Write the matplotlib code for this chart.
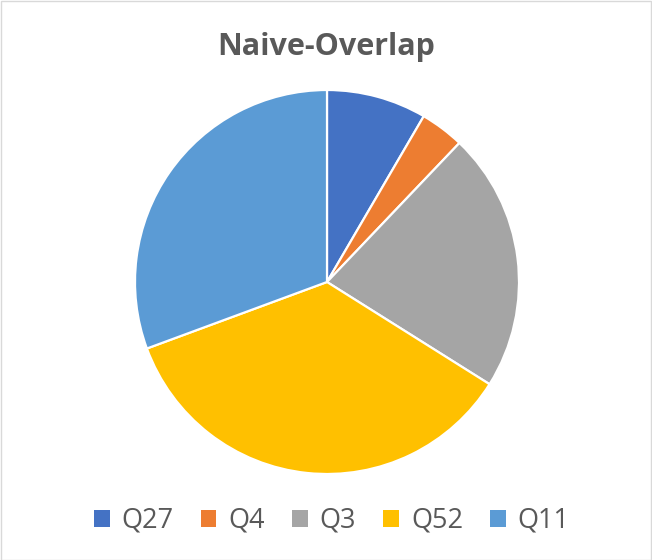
import matplotlib

matplotlib.use("Agg")
import matplotlib.pyplot as plt
from matplotlib.patches import Patch, Rectangle

LABELS = ["Q27", "Q4", "Q3", "Q52", "Q11"]
SHARES = [8.4, 3.7, 21.8, 35.4, 30.6]
COLORS = ["#4472C4", "#ED7D31", "#A5A5A5", "#FFC000", "#5B9BD5"]
TITLE = "Naive-Overlap"

W, H = 652, 560
plt.rcParams["font.family"] = ["Open Sans", "DejaVu Sans"]

fig = plt.figure(figsize=(W / 100, H / 100), dpi=100)
fig.patch.set_facecolor("white")

# pie centre (327, 282) px, radius 192 px
cx, cy, r = 327, 282, 192
ax = fig.add_axes([(cx - r) / W, (H - cy - r) / H, 2 * r / W, 2 * r / H])
ax.pie(
    SHARES,
    colors=COLORS,
    startangle=90,
    counterclock=False,
    radius=1.0,
    wedgeprops=dict(edgecolor="white", linewidth=1.6),
)
ax.set_xlim(-1, 1)
ax.set_ylim(-1, 1)
ax.set_aspect("equal")
ax.axis("off")

fig.text(0.5, 1 - 55 / H, TITLE, ha="center", va="baseline",
         fontsize=22, fontweight="bold", color="#595959")

handles = [Patch(facecolor=c, edgecolor="none") for c in COLORS]
fig.legend(handles, LABELS, loc="center", bbox_to_anchor=(0.5 + 6 / W, 1 - 521 / H),
           ncol=5, frameon=False, fontsize=19.5, labelcolor="#595959",
           handlelength=0.57, handleheight=0.57, handletextpad=0.45,
           columnspacing=1.0, borderpad=0, borderaxespad=0)

fig.patches.append(Rectangle((0.5 / W, 0.5 / H), 1 - 1.5 / W, 1 - 1.5 / H,
                             transform=fig.transFigure, fill=False,
                             edgecolor="#D9D9D9", linewidth=1.0))

fig.savefig("out.png", dpi=100)
